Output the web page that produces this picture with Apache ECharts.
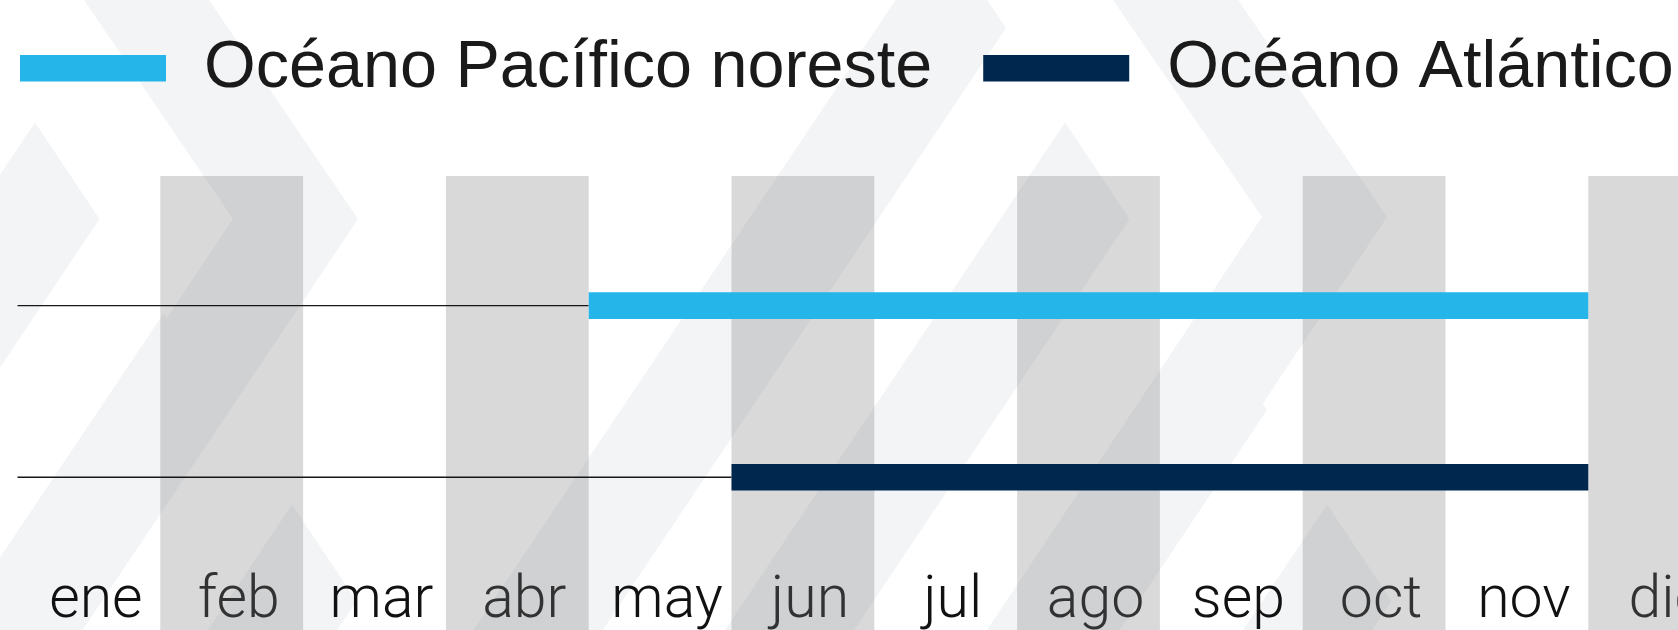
<!DOCTYPE html>
<html>
<head>
<meta charset="utf-8">
<script src="https://cdn.jsdelivr.net/npm/echarts@6/dist/echarts.min.js"></script>
<style>
html, body { margin: 0; padding: 0; background: #fff; }
#main { width: 1678px; height: 630px; }
</style>
</head>
<body>
<div id="main"></div>
<script>
// temporada de huracanes, en meses (0 = 1 de enero)
const months = ['ene', 'feb', 'mar', 'abr', 'may', 'jun', 'jul', 'ago', 'sep', 'oct', 'nov', 'dic'];
const oceans = ['Océano Pacífico noreste', 'Océano Atlántico'];
const seasonStart = [4, 5];
const seasonEnd = [11, 11];
const rowPos = [1, 0];
const shadedMonths = [1, 3, 5, 7, 9, 11];
const colors = ['#26b5e8', '#00284f'];

// fondo decorativo (chevrones claros)
const bgShapes = [
  [[35, 122.5], [99.5, 219], [-176, 630], [-305, 630]],
  [[1065, 122.5], [1129.5, 219], [854, 630], [725, 630]],
  [[209, 0], [358, 219], [82.6, 630], [-42, 630], [233, 219], [84, 0]],
  [[1238, 0], [1387, 217], [1112, 630], [987, 630], [1262, 217], [1113, 0]],
  [[163.5, 313.5], [228, 410], [80.6, 630], [-48.6, 630]],
  [[1202.5, 313.5], [1267, 410], [1119.6, 630], [990.4, 630]],
  [[941.5, -68.5], [1006, 28], [602.7, 630], [473.5, 630]],
  [[292, 504.5], [356.5, 601], [337, 630], [208, 630]],
  [[1327, 504.5], [1391.5, 601], [1372, 630], [1243, 630]]
];

const chart = echarts.init(document.getElementById('main'));

function renderSeason(params, api) {
  const row = api.value(2);
  const start = api.coord([api.value(0), row]);
  const end = api.coord([api.value(1), row]);
  const origin = api.coord([0, row]);
  return {
    type: 'group',
    children: [
      {
        type: 'line',
        shape: { x1: origin[0], y1: origin[1], x2: start[0], y2: start[1] },
        style: { stroke: '#161616', lineWidth: 1.3 }
      },
      {
        type: 'rect',
        shape: { x: start[0], y: start[1] - 13.3, width: end[0] - start[0], height: 26.6 },
        style: { fill: api.visual('color') }
      }
    ]
  };
}

const series = [
  {
    name: 'meses',
    type: 'line',
    xAxisIndex: 1,
    data: [],
    z: 1,
    markArea: {
      silent: true,
      itemStyle: { color: 'rgba(128,128,128,0.3)' },
      data: shadedMonths.map(function (m) {
        return [{ xAxis: m }, { xAxis: m + 1 }];
      })
    }
  }
];
oceans.forEach(function (name, i) {
  series.push({
    name: name,
    type: 'custom',
    xAxisIndex: 1,
    z: 3,
    itemStyle: { color: colors[i] },
    renderItem: renderSeason,
    encode: { x: [0, 1], y: 2 },
    data: [[seasonStart[i], seasonEnd[i], rowPos[i]]]
  });
});

chart.setOption({
  backgroundColor: '#fff',
  animation: false,
  graphic: {
    elements: bgShapes.map(function (pts) {
      return {
        type: 'polygon',
        silent: true,
        z: -10,
        shape: { points: pts },
        style: { fill: '#f3f4f6' }
      };
    })
  },
  legend: {
    data: oceans,
    left: 20,
    top: 34.7,
    padding: 0,
    icon: 'rect',
    itemWidth: 146,
    itemHeight: 26.6,
    itemGap: 51,
    textStyle: {
      fontFamily: 'Liberation Sans',
      fontSize: 66.5,
      color: '#1a1a1a',
      padding: [0, 0, 17, 33]
    }
  },
  grid: {
    left: 17.5,
    top: 176,
    bottom: 0,
    width: 1713.6,
    outerBoundsMode: 'none',
    containLabel: false
  },
  xAxis: [
    {
      type: 'category',
      data: months,
      axisLine: { show: false },
      axisTick: { show: false },
      splitLine: { show: false },
      axisLabel: {
        inside: true,
        interval: 0,
        margin: -2,
        fontFamily: 'Roboto',
        fontWeight: 300,
        fontSize: 59,
        color: '#111',
        padding: [0, 0, 0, 14]
      }
    },
    {
      type: 'value',
      min: 0,
      max: 12,
      show: false
    }
  ],
  yAxis: {
    type: 'value',
    min: -0.89,
    max: 1.755,
    show: false
  },
  series: series
});
</script>
</body>
</html>
